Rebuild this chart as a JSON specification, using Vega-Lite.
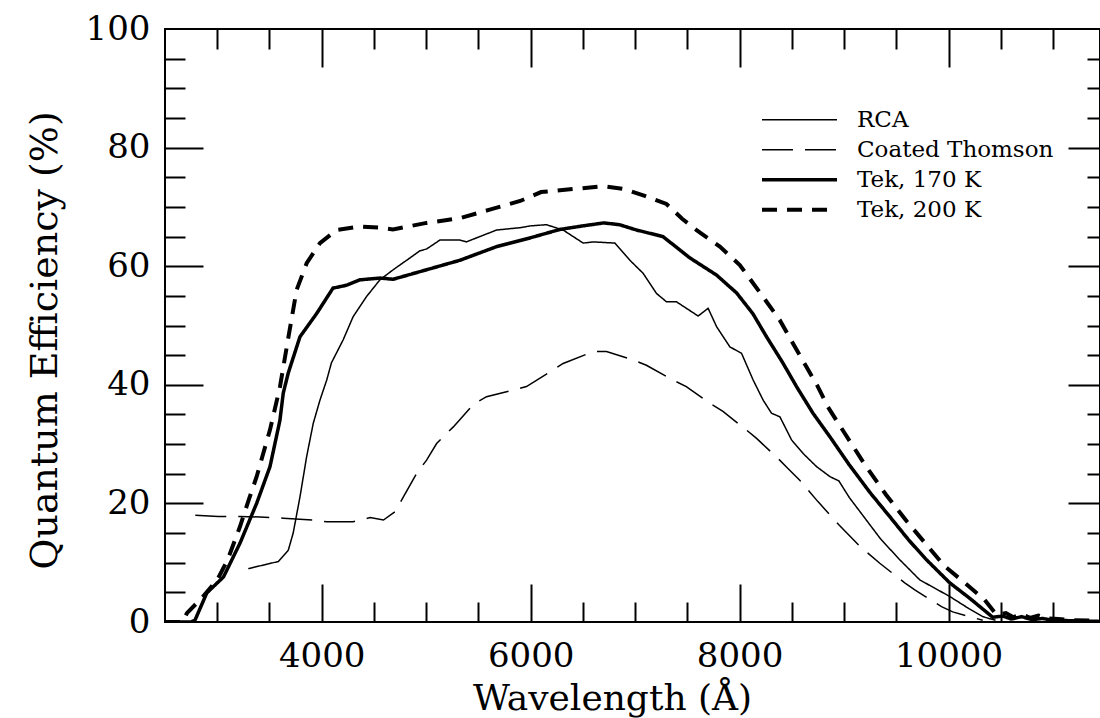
{
  "$schema": "https://vega.github.io/schema/vega-lite/v6.json",
  "width": 935,
  "height": 593,
  "autosize": {"type": "none"},
  "padding": {"left": 165, "top": 29, "right": 0, "bottom": 96},
  "background": "white",
  "config": {
    "view": {"stroke": "black", "strokeWidth": 2},
    "font": "DejaVu Serif",
    "axis": {"grid": false, "domain": false, "tickColor": "black", "tickWidth": 2, "labelColor": "black", "titleColor": "black"}
  },
  "data": {"values": [
    {"s": "Tek, 200 K", "w": 2500, "q": 0}, {"s": "Tek, 200 K", "w": 2670, "q": 0}, {"s": "Tek, 200 K", "w": 2710, "q": 1.5}, {"s": "Tek, 200 K", "w": 2850, "q": 4}, {"s": "Tek, 200 K", "w": 3000, "q": 7.1}, {"s": "Tek, 200 K", "w": 3100, "q": 10.5}, {"s": "Tek, 200 K", "w": 3218, "q": 16.1}, {"s": "Tek, 200 K", "w": 3300, "q": 20.5}, {"s": "Tek, 200 K", "w": 3377, "q": 24.5}, {"s": "Tek, 200 K", "w": 3505, "q": 32.4}, {"s": "Tek, 200 K", "w": 3600, "q": 39.6}, {"s": "Tek, 200 K", "w": 3677, "q": 47.6}, {"s": "Tek, 200 K", "w": 3760, "q": 56}, {"s": "Tek, 200 K", "w": 3856, "q": 60.5}, {"s": "Tek, 200 K", "w": 3983, "q": 63.9}, {"s": "Tek, 200 K", "w": 4143, "q": 66.1}, {"s": "Tek, 200 K", "w": 4366, "q": 66.7}, {"s": "Tek, 200 K", "w": 4550, "q": 66.5}, {"s": "Tek, 200 K", "w": 4682, "q": 66.2}, {"s": "Tek, 200 K", "w": 5004, "q": 67.3}, {"s": "Tek, 200 K", "w": 5323, "q": 68.1}, {"s": "Tek, 200 K", "w": 5600, "q": 69.5}, {"s": "Tek, 200 K", "w": 5900, "q": 71}, {"s": "Tek, 200 K", "w": 6100, "q": 72.5}, {"s": "Tek, 200 K", "w": 6400, "q": 73}, {"s": "Tek, 200 K", "w": 6700, "q": 73.5}, {"s": "Tek, 200 K", "w": 6900, "q": 73}, {"s": "Tek, 200 K", "w": 7100, "q": 71.8}, {"s": "Tek, 200 K", "w": 7300, "q": 70.5}, {"s": "Tek, 200 K", "w": 7450, "q": 68}, {"s": "Tek, 200 K", "w": 7588, "q": 66.1}, {"s": "Tek, 200 K", "w": 7811, "q": 63.3}, {"s": "Tek, 200 K", "w": 8002, "q": 60.2}, {"s": "Tek, 200 K", "w": 8222, "q": 54.9}, {"s": "Tek, 200 K", "w": 8385, "q": 50.9}, {"s": "Tek, 200 K", "w": 8510, "q": 47}, {"s": "Tek, 200 K", "w": 8641, "q": 43}, {"s": "Tek, 200 K", "w": 8749, "q": 39.7}, {"s": "Tek, 200 K", "w": 8844, "q": 36.3}, {"s": "Tek, 200 K", "w": 9000, "q": 32}, {"s": "Tek, 200 K", "w": 9200, "q": 26.5}, {"s": "Tek, 200 K", "w": 9400, "q": 21.5}, {"s": "Tek, 200 K", "w": 9600, "q": 17}, {"s": "Tek, 200 K", "w": 9800, "q": 12.8}, {"s": "Tek, 200 K", "w": 9964, "q": 9.4}, {"s": "Tek, 200 K", "w": 10156, "q": 6.6}, {"s": "Tek, 200 K", "w": 10347, "q": 3.7}, {"s": "Tek, 200 K", "w": 10460, "q": 1.2}, {"s": "Tek, 200 K", "w": 10550, "q": 1.5}, {"s": "Tek, 200 K", "w": 10620, "q": 0.8}, {"s": "Tek, 200 K", "w": 10700, "q": 1.3}, {"s": "Tek, 200 K", "w": 10780, "q": 0.7}, {"s": "Tek, 200 K", "w": 10860, "q": 1.1}, {"s": "Tek, 200 K", "w": 10950, "q": 0.6}, {"s": "Tek, 200 K", "w": 11050, "q": 0.5}, {"s": "Tek, 200 K", "w": 11200, "q": 0.3}, {"s": "Tek, 200 K", "w": 11450, "q": 0.2},

    {"s": "Tek, 170 K", "w": 2500, "q": 0}, {"s": "Tek, 170 K", "w": 2750, "q": 0}, {"s": "Tek, 170 K", "w": 2787, "q": 0.3}, {"s": "Tek, 170 K", "w": 2900, "q": 4.9}, {"s": "Tek, 170 K", "w": 3060, "q": 7.6}, {"s": "Tek, 170 K", "w": 3218, "q": 13.3}, {"s": "Tek, 170 K", "w": 3377, "q": 20}, {"s": "Tek, 170 K", "w": 3505, "q": 26.2}, {"s": "Tek, 170 K", "w": 3600, "q": 34}, {"s": "Tek, 170 K", "w": 3632, "q": 38.6}, {"s": "Tek, 170 K", "w": 3680, "q": 42}, {"s": "Tek, 170 K", "w": 3792, "q": 48.1}, {"s": "Tek, 170 K", "w": 3951, "q": 52}, {"s": "Tek, 170 K", "w": 4108, "q": 56.3}, {"s": "Tek, 170 K", "w": 4240, "q": 56.8}, {"s": "Tek, 170 K", "w": 4366, "q": 57.7}, {"s": "Tek, 170 K", "w": 4557, "q": 58}, {"s": "Tek, 170 K", "w": 4684, "q": 57.8}, {"s": "Tek, 170 K", "w": 5004, "q": 59.4}, {"s": "Tek, 170 K", "w": 5323, "q": 61}, {"s": "Tek, 170 K", "w": 5674, "q": 63.3}, {"s": "Tek, 170 K", "w": 6000, "q": 64.8}, {"s": "Tek, 170 K", "w": 6280, "q": 66.2}, {"s": "Tek, 170 K", "w": 6500, "q": 66.8}, {"s": "Tek, 170 K", "w": 6700, "q": 67.3}, {"s": "Tek, 170 K", "w": 6850, "q": 67}, {"s": "Tek, 170 K", "w": 7014, "q": 66.1}, {"s": "Tek, 170 K", "w": 7266, "q": 65}, {"s": "Tek, 170 K", "w": 7524, "q": 61.4}, {"s": "Tek, 170 K", "w": 7780, "q": 58.5}, {"s": "Tek, 170 K", "w": 7971, "q": 55.5}, {"s": "Tek, 170 K", "w": 8127, "q": 52}, {"s": "Tek, 170 K", "w": 8258, "q": 48.1}, {"s": "Tek, 170 K", "w": 8414, "q": 43.7}, {"s": "Tek, 170 K", "w": 8545, "q": 39.7}, {"s": "Tek, 170 K", "w": 8703, "q": 35.2}, {"s": "Tek, 170 K", "w": 8866, "q": 31.2}, {"s": "Tek, 170 K", "w": 9050, "q": 26.5}, {"s": "Tek, 170 K", "w": 9250, "q": 21.8}, {"s": "Tek, 170 K", "w": 9450, "q": 17.5}, {"s": "Tek, 170 K", "w": 9620, "q": 13.8}, {"s": "Tek, 170 K", "w": 9789, "q": 10.5}, {"s": "Tek, 170 K", "w": 10012, "q": 6.6}, {"s": "Tek, 170 K", "w": 10203, "q": 4}, {"s": "Tek, 170 K", "w": 10423, "q": 0.8}, {"s": "Tek, 170 K", "w": 10520, "q": 1.0}, {"s": "Tek, 170 K", "w": 10600, "q": 0.5}, {"s": "Tek, 170 K", "w": 10700, "q": 0.9}, {"s": "Tek, 170 K", "w": 10800, "q": 0.4}, {"s": "Tek, 170 K", "w": 10900, "q": 0.6}, {"s": "Tek, 170 K", "w": 11000, "q": 0.3}, {"s": "Tek, 170 K", "w": 11200, "q": 0.2}, {"s": "Tek, 170 K", "w": 11450, "q": 0.1},

    {"s": "RCA", "w": 3297, "q": 9}, {"s": "RCA", "w": 3584, "q": 10.2}, {"s": "RCA", "w": 3680, "q": 12.1}, {"s": "RCA", "w": 3727, "q": 15}, {"s": "RCA", "w": 3792, "q": 21.1}, {"s": "RCA", "w": 3856, "q": 27.9}, {"s": "RCA", "w": 3919, "q": 33.5}, {"s": "RCA", "w": 3983, "q": 37.4}, {"s": "RCA", "w": 4048, "q": 40.8}, {"s": "RCA", "w": 4093, "q": 43.7}, {"s": "RCA", "w": 4206, "q": 47.6}, {"s": "RCA", "w": 4301, "q": 51.5}, {"s": "RCA", "w": 4430, "q": 54.9}, {"s": "RCA", "w": 4557, "q": 57.7}, {"s": "RCA", "w": 4684, "q": 59.4}, {"s": "RCA", "w": 4813, "q": 61}, {"s": "RCA", "w": 4940, "q": 62.6}, {"s": "RCA", "w": 5004, "q": 62.9}, {"s": "RCA", "w": 5131, "q": 64.4}, {"s": "RCA", "w": 5323, "q": 64.4}, {"s": "RCA", "w": 5386, "q": 64.1}, {"s": "RCA", "w": 5514, "q": 65}, {"s": "RCA", "w": 5674, "q": 66.1}, {"s": "RCA", "w": 5900, "q": 66.5}, {"s": "RCA", "w": 6000, "q": 66.8}, {"s": "RCA", "w": 6150, "q": 67}, {"s": "RCA", "w": 6311, "q": 66.1}, {"s": "RCA", "w": 6503, "q": 63.9}, {"s": "RCA", "w": 6598, "q": 64.1}, {"s": "RCA", "w": 6806, "q": 63.9}, {"s": "RCA", "w": 6950, "q": 61}, {"s": "RCA", "w": 7077, "q": 58.8}, {"s": "RCA", "w": 7205, "q": 55.4}, {"s": "RCA", "w": 7300, "q": 54}, {"s": "RCA", "w": 7396, "q": 54}, {"s": "RCA", "w": 7603, "q": 51.6}, {"s": "RCA", "w": 7699, "q": 52.9}, {"s": "RCA", "w": 7780, "q": 49.8}, {"s": "RCA", "w": 7907, "q": 46.4}, {"s": "RCA", "w": 8019, "q": 45.3}, {"s": "RCA", "w": 8130, "q": 40.8}, {"s": "RCA", "w": 8226, "q": 37.4}, {"s": "RCA", "w": 8306, "q": 35.2}, {"s": "RCA", "w": 8386, "q": 34.6}, {"s": "RCA", "w": 8498, "q": 30.7}, {"s": "RCA", "w": 8609, "q": 28.4}, {"s": "RCA", "w": 8737, "q": 26.2}, {"s": "RCA", "w": 8866, "q": 24.5}, {"s": "RCA", "w": 8950, "q": 23.8}, {"s": "RCA", "w": 9050, "q": 21}, {"s": "RCA", "w": 9200, "q": 17.5}, {"s": "RCA", "w": 9350, "q": 14}, {"s": "RCA", "w": 9533, "q": 10.5}, {"s": "RCA", "w": 9725, "q": 7.1}, {"s": "RCA", "w": 10012, "q": 4.3}, {"s": "RCA", "w": 10200, "q": 2.2}, {"s": "RCA", "w": 10327, "q": 0.9}, {"s": "RCA", "w": 10450, "q": 0.3},

    {"s": "Coated Thomson", "w": 2790, "q": 18}, {"s": "Coated Thomson", "w": 3010, "q": 17.8}, {"s": "Coated Thomson", "w": 3218, "q": 17.8}, {"s": "Coated Thomson", "w": 3409, "q": 17.7}, {"s": "Coated Thomson", "w": 3632, "q": 17.5}, {"s": "Coated Thomson", "w": 3919, "q": 17.2}, {"s": "Coated Thomson", "w": 4048, "q": 16.9}, {"s": "Coated Thomson", "w": 4301, "q": 16.9}, {"s": "Coated Thomson", "w": 4464, "q": 17.6}, {"s": "Coated Thomson", "w": 4591, "q": 17.2}, {"s": "Coated Thomson", "w": 4703, "q": 18.6}, {"s": "Coated Thomson", "w": 4782, "q": 21.1}, {"s": "Coated Thomson", "w": 4910, "q": 25.1}, {"s": "Coated Thomson", "w": 5004, "q": 27.3}, {"s": "Coated Thomson", "w": 5100, "q": 30.1}, {"s": "Coated Thomson", "w": 5196, "q": 31.8}, {"s": "Coated Thomson", "w": 5260, "q": 32.9}, {"s": "Coated Thomson", "w": 5451, "q": 36.7}, {"s": "Coated Thomson", "w": 5578, "q": 38}, {"s": "Coated Thomson", "w": 5833, "q": 39.1}, {"s": "Coated Thomson", "w": 5960, "q": 39.7}, {"s": "Coated Thomson", "w": 6215, "q": 42.5}, {"s": "Coated Thomson", "w": 6311, "q": 43.6}, {"s": "Coated Thomson", "w": 6598, "q": 45.6}, {"s": "Coated Thomson", "w": 6726, "q": 45.6}, {"s": "Coated Thomson", "w": 6981, "q": 44.2}, {"s": "Coated Thomson", "w": 7108, "q": 43.3}, {"s": "Coated Thomson", "w": 7363, "q": 40.8}, {"s": "Coated Thomson", "w": 7490, "q": 39.7}, {"s": "Coated Thomson", "w": 7713, "q": 36.9}, {"s": "Coated Thomson", "w": 7841, "q": 35.5}, {"s": "Coated Thomson", "w": 8064, "q": 32.4}, {"s": "Coated Thomson", "w": 8160, "q": 31}, {"s": "Coated Thomson", "w": 8384, "q": 27.3}, {"s": "Coated Thomson", "w": 8463, "q": 25.9}, {"s": "Coated Thomson", "w": 8576, "q": 23.9}, {"s": "Coated Thomson", "w": 8750, "q": 20.3}, {"s": "Coated Thomson", "w": 8950, "q": 16.4}, {"s": "Coated Thomson", "w": 9150, "q": 12.8}, {"s": "Coated Thomson", "w": 9342, "q": 9.9}, {"s": "Coated Thomson", "w": 9581, "q": 6.6}, {"s": "Coated Thomson", "w": 9677, "q": 5.4}, {"s": "Coated Thomson", "w": 9933, "q": 2.6}, {"s": "Coated Thomson", "w": 10040, "q": 1.7}, {"s": "Coated Thomson", "w": 10327, "q": 0.3}
  ]},
  "layer": [
    {
      "mark": {"type": "line", "color": "black", "clip": true},
      "encoding": {
        "x": {"field": "w", "type": "quantitative", "scale": {"domain": [2500, 11450], "nice": false, "zero": false},
          "axis": {"orient": "bottom", "values": [4000, 6000, 8000, 10000], "ticks": false, "tickSize": 0, "labelFont": "DejaVu Serif", "labelFontSize": 34, "labelPadding": 44, "labelBaseline": "alphabetic", "labelFlush": false, "labelOverlap": false, "format": "d",
            "title": "Wavelength (Å)", "titleFont": "DejaVu Serif", "titleFontSize": 36, "titleFontWeight": "normal", "titleX": 447, "titleY": 87, "titleBaseline": "alphabetic", "titleAlign": "center"}},
        "y": {"field": "q", "type": "quantitative", "scale": {"domain": [0, 100], "nice": false},
          "axis": {"orient": "left", "values": [0, 20, 40, 60, 80, 100], "ticks": false, "tickSize": 0, "labelFont": "DejaVu Serif", "labelFontSize": 34, "labelPadding": 15, "labelBaseline": "middle", "labelFlush": false, "labelOverlap": false,
            "title": "Quantum Efficiency (%)", "titleFont": "DejaVu Serif", "titleFontSize": 38, "titleFontWeight": "normal", "titleX": -120, "titleY": 311, "titleBaseline": "middle", "titleAlign": "center", "titleAngle": 270}},
        "strokeDash": {"field": "s", "type": "nominal",
          "scale": {"domain": ["RCA", "Coated Thomson", "Tek, 170 K", "Tek, 200 K"], "range": [[1, 0], [31, 12], [1, 0], [15, 10]]},
          "legend": {"title": null, "orient": "none", "legendX": 595, "legendY": 76, "symbolType": "stroke", "symbolSize": 5625, "symbolStrokeColor": "black", "labelFont": "DejaVu Serif", "labelFontSize": 23, "labelColor": "black", "labelOffset": 18, "clipHeight": 29.5, "rowPadding": 0, "padding": 0, "labelLimit": 400}},
        "strokeWidth": {"field": "s", "type": "nominal",
          "scale": {"type": "ordinal", "domain": ["RCA", "Coated Thomson", "Tek, 170 K", "Tek, 200 K"], "range": [1.5, 1.5, 3.5, 4]},
          "legend": {"title": null, "orient": "none", "legendX": 595, "legendY": 76, "symbolType": "stroke", "symbolSize": 5625, "symbolStrokeColor": "black", "labelFont": "DejaVu Serif", "labelFontSize": 23, "labelColor": "black", "labelOffset": 18, "clipHeight": 29.5, "rowPadding": 0, "padding": 0, "labelLimit": 400}}
      }
    },
    {
      "mark": {"type": "point", "opacity": 0},
      "encoding": {
        "x": {"field": "w", "type": "quantitative", "scale": {"domain": [2500, 11450], "nice": false, "zero": false},
          "axis": {"orient": "bottom", "values": [3000, 3500, 4500, 5000, 5500, 6500, 7000, 7500, 8500, 9000, 9500, 10500, 11000], "labels": false, "tickSize": -20, "title": null}},
        "y": {"field": "q", "type": "quantitative", "scale": {"domain": [0, 100], "nice": false},
          "axis": {"orient": "left", "values": [5, 10, 15, 25, 30, 35, 45, 50, 55, 65, 70, 75, 85, 90, 95], "labels": false, "tickSize": -20, "title": null}}
      }
    },
    {
      "mark": {"type": "point", "opacity": 0},
      "encoding": {
        "x": {"field": "w", "type": "quantitative", "scale": {"domain": [2500, 11450], "nice": false, "zero": false},
          "axis": {"orient": "bottom", "values": [4000, 6000, 8000, 10000], "labels": false, "tickSize": -38, "title": null}},
        "y": {"field": "q", "type": "quantitative", "scale": {"domain": [0, 100], "nice": false},
          "axis": {"orient": "left", "values": [20, 40, 60, 80], "labels": false, "tickSize": -38, "title": null}}
      }
    },
    {
      "mark": {"type": "point", "opacity": 0},
      "encoding": {
        "x": {"field": "w", "type": "quantitative", "scale": {"domain": [2500, 11450], "nice": false, "zero": false},
          "axis": {"orient": "top", "values": [3000, 3500, 4500, 5000, 5500, 6500, 7000, 7500, 8500, 9000, 9500, 10500, 11000], "labels": false, "tickSize": -20, "title": null}},
        "y": {"field": "q", "type": "quantitative", "scale": {"domain": [0, 100], "nice": false},
          "axis": {"orient": "right", "values": [5, 10, 15, 25, 30, 35, 45, 50, 55, 65, 70, 75, 85, 90, 95], "labels": false, "tickSize": -13, "title": null}}
      }
    },
    {
      "mark": {"type": "point", "opacity": 0},
      "encoding": {
        "x": {"field": "w", "type": "quantitative", "scale": {"domain": [2500, 11450], "nice": false, "zero": false},
          "axis": {"orient": "top", "values": [4000, 6000, 8000, 10000], "labels": false, "tickSize": -38, "title": null}},
        "y": {"field": "q", "type": "quantitative", "scale": {"domain": [0, 100], "nice": false},
          "axis": {"orient": "right", "values": [20, 40, 60, 80], "labels": false, "tickSize": -32, "title": null}}
      }
    }
  ],
  "resolve": {"axis": {"x": "independent", "y": "independent"}}
}
